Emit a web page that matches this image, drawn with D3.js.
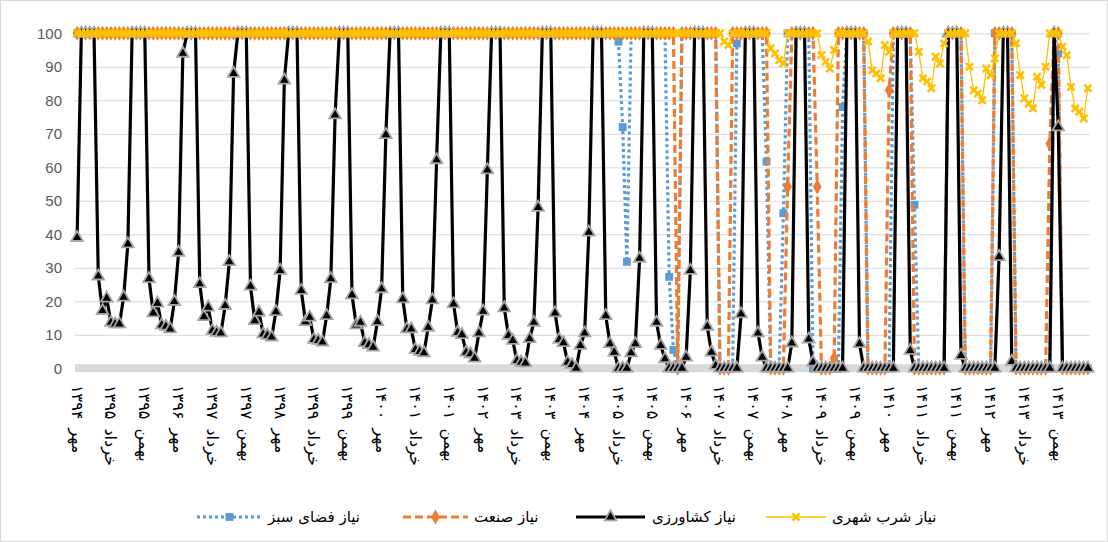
<!DOCTYPE html>
<html><head><meta charset="utf-8">
<script src="https://cdn.jsdelivr.net/npm/d3@7/dist/d3.min.js"></script>
<style>body{margin:0;background:#fff}svg{display:block}</style>
</head><body><div id="chart"></div>
<script>
// ماه‌های سال آبی، از مهر
const MONTHS = ["مهر","آبان","آذر","دی","بهمن","اسفند","فروردین","اردیبهشت","خرداد","تیر","مرداد","شهریور"];
const START_YEAR = 1394;
const YEAR_COUNT = 20;
const Y_TICKS = [0,10,20,30,40,50,60,70,80,90,100];

// هر ردیف = یک سال آبی (مهر تا شهریور)
const agri = [
  39,100,100,100,100,27.5,17.2,20.9,13.7,13.2,13.2,21.2,
  37.1,100,100,100,100,26.7,16.5,19.4,12.9,12.5,11.7,19.9,
  34.6,94,100,100,100,25.2,15.4,18.2,11.2,10.7,10.5,18.7,
  31.8,88,100,100,100,24.5,14.2,16.7,10.2,9.8,9.3,16.9,
  29.2,86,100,100,100,23.2,13.9,15.2,8.6,8.3,7.8,15.7,
  26.7,75.6,100,100,100,21.9,12.9,13.7,7.6,7,6.3,13.9,
  23.7,69.7,100,100,100,20.7,11.7,11.7,5.6,5,4.6,12.2,
  20.4,62.2,100,100,100,19.2,10.7,10,4.8,4.3,3,10.5,
  17,59.2,100,100,100,18,9.8,8.3,2.3,1.8,1.6,8.8,
  13.7,48,100,100,100,16.5,8.6,7.6,1.8,1.1,0,6.8,
  10.5,40.6,100,100,100,15.7,7.3,4.8,0,0,0,4.6,
  7.3,32.8,100,100,100,13.7,6.8,2.8,0,0,0,0,
  3.3,29.2,100,100,100,12.5,4.8,0.8,0,0,0,0,
  0,16.2,100,100,100,10.5,3.3,0,0,0,0,0,
  0,7.5,100,100,100,8.7,1.8,0,0,0,0,0,
  0,0,100,100,100,7.3,0,0,0,0,0,0,
  0,0,100,100,100,5.3,0,0,0,0,0,0,
  0,0,100,100,100,3.8,0,0,0,0,0,0,
  0,0,33.3,100,100,2,0,0,0,0,0,0,
  0,0,0,100,72,0,0,0,0,0,0,0
];
const green = [
  100,100,100,100,100,100,100,100,100,100,100,100,
  100,100,100,100,100,100,100,100,100,100,100,100,
  100,100,100,100,100,100,100,100,100,100,100,100,
  100,100,100,100,100,100,100,100,100,100,100,100,
  100,100,100,100,100,100,100,100,100,100,100,100,
  100,100,100,100,100,100,100,100,100,100,100,100,
  100,100,100,100,100,100,100,100,100,100,100,100,
  100,100,100,100,100,100,100,100,100,100,100,100,
  100,100,100,100,100,100,100,100,100,100,100,100,
  100,100,100,100,100,100,100,100,100,100,100,100,
  100,100,100,100,100,100,100,100,97.5,72,31.8,100,
  100,100,100,100,100,100,100,100,27.3,5.5,0,100,
  100,100,100,100,100,100,100,100,0,0,0,0,
  97,100,100,100,100,100,100,61.7,0,0,0,46.3,
  100,100,100,100,100,100,0,0,0,0,0,0,
  0,78,100,100,100,100,100,0,0,0,0,0,
  0,100,100,100,100,100,48.8,0,0,0,0,0,
  0,0,100,100,100,100,0,0,0,0,0,0,
  0,100,100,100,100,100,0,0,0,0,0,0,
  0,0,0,100,94,0,0,0,0,0,0,0
];
const industry = [
  100,100,100,100,100,100,100,100,100,100,100,100,
  100,100,100,100,100,100,100,100,100,100,100,100,
  100,100,100,100,100,100,100,100,100,100,100,100,
  100,100,100,100,100,100,100,100,100,100,100,100,
  100,100,100,100,100,100,100,100,100,100,100,100,
  100,100,100,100,100,100,100,100,100,100,100,100,
  100,100,100,100,100,100,100,100,100,100,100,100,
  100,100,100,100,100,100,100,100,100,100,100,100,
  100,100,100,100,100,100,100,100,100,100,100,100,
  100,100,100,100,100,100,100,100,100,100,100,100,
  100,100,100,100,100,100,100,100,100,100,100,100,
  100,100,100,100,100,100,100,100,100,100,0,100,
  100,100,100,100,100,100,100,100,0,0,0,100,
  100,100,100,100,100,100,100,100,0,0,0,0,
  54.2,100,100,100,100,100,100,54.2,0,0,0,3,
  100,100,100,100,100,100,100,0,0,0,0,0,
  83,100,100,100,100,100,0,0,0,0,0,0,
  0,0,100,100,100,100,0,0,0,0,0,0,
  0,100,100,100,100,100,0,0,0,0,0,0,
  0,0,67,100,100,0,0,0,0,0,0,0
];
const urban = [
  100,100,100,100,100,100,100,100,100,100,100,100,
  100,100,100,100,100,100,100,100,100,100,100,100,
  100,100,100,100,100,100,100,100,100,100,100,100,
  100,100,100,100,100,100,100,100,100,100,100,100,
  100,100,100,100,100,100,100,100,100,100,100,100,
  100,100,100,100,100,100,100,100,100,100,100,100,
  100,100,100,100,100,100,100,100,100,100,100,100,
  100,100,100,100,100,100,100,100,100,100,100,100,
  100,100,100,100,100,100,100,100,100,100,100,100,
  100,100,100,100,100,100,100,100,100,100,100,100,
  100,100,100,100,100,100,100,100,100,100,100,100,
  100,100,100,100,100,100,100,100,100,100,100,100,
  100,100,100,100,100,100,100,100,100,97.5,96.5,100,
  100,100,100,100,100,100,100,100,95.5,94,92,91,
  100,100,100,100,100,100,100,100,93.5,91.5,89.5,95,
  100,100,100,100,100,100,100,97.5,89,88,86.6,96.5,
  94.5,100,100,100,100,100,100,94.5,86.6,85.6,83.6,93,
  91,97,100,100,100,100,100,90,83,82,80,89.5,
  87.5,92.5,100,100,100,100,97,87.5,80.6,79,77.6,87,
  84.6,90,100,100,100,96,93.5,84,77.6,76.6,74.6,83.6
];

const fa = s => String(s).replace(/\d/g, d => "۰۱۲۳۴۵۶۷۸۹"[d]);
const cats = [];
for (let y = 0; y < YEAR_COUNT; y++)
  MONTHS.forEach((m, k) => cats.push(m + " " + fa(START_YEAR + y + (k >= 6 ? 1 : 0))));

const C = { blue: "#5B9BD5", orange: "#ED7D31", black: "#000", gray: "#A5A5A5", yellow: "#FFC000", grid: "#D9D9D9", text: "#595959" };
const FA_FONT = "'DejaVu Sans', 'Noto Sans', sans-serif";

const W = 1108, H = 542;
const PL = 75, PR = 1090, PT = 33.3, PB = 368.3;

const x = d3.scalePoint().domain(d3.range(cats.length)).range([PL, PR]).padding(0.5);
const y = d3.scaleLinear().domain([0, 100]).range([PB, PT]);

const svg = d3.select("#chart").append("svg").attr("width", W).attr("height", H);
svg.append("rect").attr("x", 0.5).attr("y", 0.5).attr("width", W - 1).attr("height", H - 1)
  .attr("fill", "#fff").attr("stroke", C.grid);

// شبکه و محور عمودی
const yAxis = svg.append("g").attr("transform", `translate(${PL},0)`)
  .call(d3.axisLeft(y).tickValues(Y_TICKS).tickSize(-(PR - PL)).tickPadding(13));
yAxis.select(".domain").remove();
yAxis.selectAll(".tick line").attr("stroke", C.grid).attr("stroke-width", 1)
  .filter(d => d === 0).remove();
yAxis.selectAll(".tick text").attr("fill", C.text)
  .style("font", "15px 'Liberation Sans', Arial, sans-serif");

// خط محور افقی (نوار خاکستری)
svg.append("line").attr("x1", PL).attr("x2", PR).attr("y1", y(0)).attr("y2", y(0))
  .attr("stroke", C.grid).attr("stroke-width", 8);

// برچسب‌های افقی هر ۸ ماه
svg.append("g").selectAll("text")
  .data(d3.range(0, cats.length, 8))
  .join("text")
  .attr("transform", i => `translate(${x(i)},385) rotate(90)`)
  .attr("dy", "0.35em")
  .attr("text-anchor", "start")
  .attr("word-spacing", "4px")
  .style("font", `16px ${FA_FONT}`)
  .attr("fill", "#000")
  .text(i => cats[i]);

const line = d3.line().x((d, i) => x(i)).y(d => y(d));

const series = [
  { name: "نیاز فضای سبز", data: green, color: C.blue, width: 3.2, dash: "3 3", cap: "butt", marker: "square" },
  { name: "نیاز صنعت", data: industry, color: C.orange, width: 3.2, dash: "8 4", cap: "butt", marker: "diamond" },
  { name: "نیاز کشاورزی", data: agri, color: C.black, width: 3.2, dash: null, cap: "round", marker: "triangle" },
  { name: "نیاز شرب شهری", data: urban, color: C.yellow, width: 1.3, dash: null, cap: "round", marker: "x" },
];

function drawMarker(g, kind, color) {
  if (kind === "x") {
    g.append("path").attr("d", "M-3.6,-3.6L3.6,3.6M3.6,-3.6L-3.6,3.6")
      .attr("stroke", color).attr("stroke-width", 2.6).attr("fill", "none");
  } else if (kind === "triangle") {
    g.append("path").attr("d", d3.symbol(d3.symbolTriangle, 58)())
      .attr("fill", C.black).attr("stroke", C.gray).attr("stroke-width", 1.8);
  } else if (kind === "diamond") {
    g.append("path").attr("d", d3.symbol(d3.symbolDiamond, 66)()).attr("fill", color);
  } else {
    g.append("path").attr("d", d3.symbol(d3.symbolSquare, 62)()).attr("fill", color);
  }
}

const plot = svg.append("g");
series.forEach(s => {
  const g = plot.append("g");
  g.append("path").datum(s.data).attr("d", line)
    .attr("fill", "none").attr("stroke", s.color).attr("stroke-width", s.width)
    .attr("stroke-dasharray", s.dash).attr("stroke-linecap", s.cap).attr("stroke-linejoin", "round");
  s.data.forEach((v, i) => {
    const m = g.append("g").attr("transform", `translate(${x(i)},${y(v)})`);
    drawMarker(m, s.marker, s.color);
  });
});

// راهنما
const LEG = [
  { s: series[0], x0: 197, x1: 262, tx: 268 },
  { s: series[1], x0: 403, x1: 468, tx: 474 },
  { s: series[2], x0: 576, x1: 645, tx: 652 },
  { s: series[3], x0: 766, x1: 826, tx: 832 },
];
const legend = svg.append("g");
LEG.forEach(L => {
  const s = L.s, ly = 517;
  legend.append("line").attr("x1", L.x0).attr("x2", L.x1).attr("y1", ly).attr("y2", ly)
    .attr("stroke", s.color).attr("stroke-width", s.width).attr("stroke-dasharray", s.dash);
  drawMarker(legend.append("g").attr("transform", `translate(${(L.x0 + L.x1) / 2},${ly})`), s.marker, s.color);
  legend.append("text").attr("x", L.tx).attr("y", ly).attr("dy", "0.35em")
    .style("font", `15px ${FA_FONT}`).attr("fill", "#000").text(s.name);
});
</script></body></html>
